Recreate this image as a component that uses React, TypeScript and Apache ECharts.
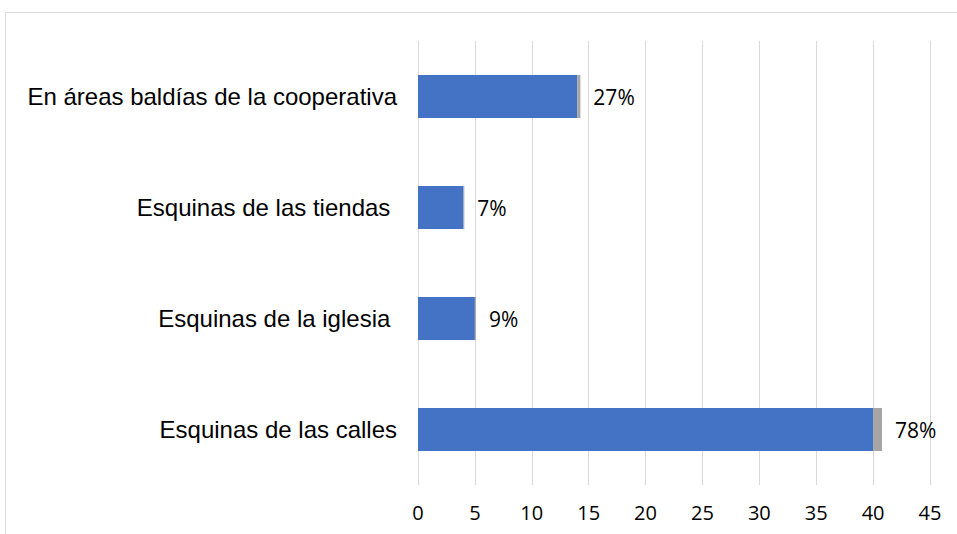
import React, { useEffect, useRef } from "react";
import * as echarts from "echarts";

const categories = [
  "En áreas baldías de la cooperativa",
  "Esquinas de las tiendas ",
  "Esquinas de la iglesia ",
  "Esquinas de las calles",
];
const countValues = [14, 4, 5, 40];
const shareValues = [0.27, 0.07, 0.09, 0.78];
const xTicks = { min: 0, max: 45, interval: 5 };

export default function App() {
  const ref = useRef<HTMLDivElement>(null);
  useEffect(() => {
    if (!ref.current) return;
    const chart = echarts.init(ref.current, undefined, { renderer: "svg" });
    chart.setOption({
      animation: false,
      backgroundColor: "#ffffff",
      graphic: [
        {
          type: "rect",
          shape: { x: 5.5, y: 12.5, width: 1000, height: 600 },
          style: { fill: "none", stroke: "#d9d9d9", lineWidth: 1 },
          silent: true,
        },
      ],
      grid: { left: 418, right: 27, top: 41, bottom: 49, containLabel: false },
      xAxis: {
        type: "value",
        min: xTicks.min,
        max: xTicks.max,
        interval: xTicks.interval,
        axisLine: { show: false },
        axisTick: { show: false },
        splitLine: { show: true, lineStyle: { color: "#d9d9d9", width: 1 } },
        axisLabel: {
          color: "#000",
          fontFamily: "Open Sans",
          fontSize: 20,
          margin: 17,
        },
      },
      yAxis: {
        type: "category",
        data: categories,
        inverse: true,
        axisLine: { show: false },
        axisTick: { show: false },
        axisLabel: {
          color: "#000",
          fontFamily: "Liberation Sans",
          fontSize: 24,
          margin: 21,
        },
      },
      series: [
        {
          type: "bar",
          stack: "s",
          data: countValues,
          barWidth: 43,
          itemStyle: { color: "#4472C4" },
        },
        {
          type: "bar",
          stack: "s",
          data: shareValues,
          barWidth: 43,
          itemStyle: { color: "#A5A5A5" },
          label: {
            show: true,
            position: "right",
            distance: 13,
            color: "#000",
            fontFamily: "Open Sans",
            fontSize: 21,
            formatter: (p: any) => `${Math.round(p.value * 100)}%`,
          },
        },
      ],
    });
    return () => chart.dispose();
  }, []);
  return (
    <div
      ref={ref}
      style={{ position: "fixed", left: 0, top: 0, width: 957, height: 534 }}
    />
  );
}
